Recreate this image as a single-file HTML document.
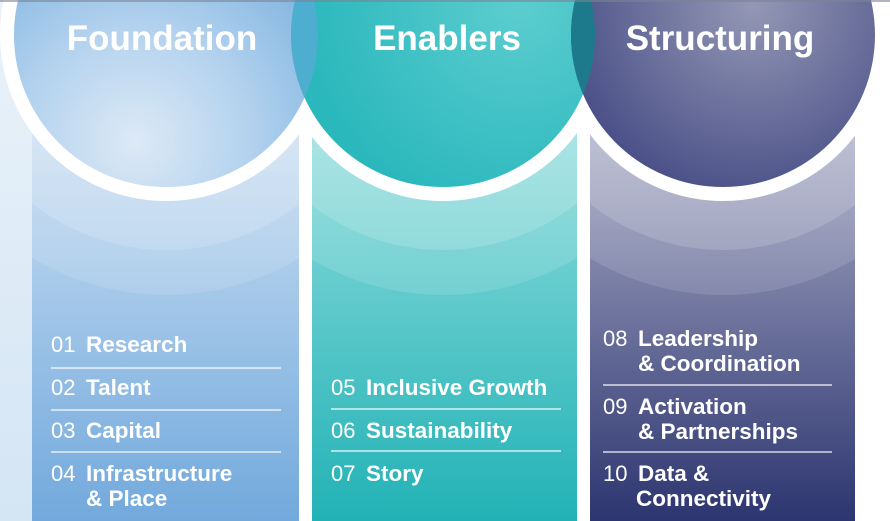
<!DOCTYPE html>
<html><head><meta charset="utf-8"><style>
html,body{margin:0;padding:0;background:#fff;}
svg{display:block;}
text{font-family:"Liberation Sans",sans-serif;fill:#fff;}
.n{font-size:22px;font-weight:normal;}
.b{font-size:22.5px;font-weight:bold;}
.h{font-size:35px;font-weight:bold;}
</style></head><body>
<svg width="890" height="521" viewBox="0 0 890 521" xmlns="http://www.w3.org/2000/svg">
<defs>
<linearGradient id="g1" x1="0" y1="0" x2="0" y2="1"><stop offset="0" stop-color="#c9def2"/><stop offset="1" stop-color="#72a9dc"/></linearGradient>
<linearGradient id="g2" x1="0" y1="0" x2="0" y2="1"><stop offset="0" stop-color="#8fdcdc"/><stop offset="1" stop-color="#22b2b6"/></linearGradient>
<linearGradient id="g3" x1="0" y1="0" x2="0" y2="1"><stop offset="0" stop-color="#a9adc6"/><stop offset="1" stop-color="#2d3570"/></linearGradient>
<linearGradient id="gl" x1="0" y1="0" x2="0" y2="1"><stop offset="0" stop-color="#e9f2fa"/><stop offset="1" stop-color="#d4e5f4"/></linearGradient>
<radialGradient id="c1" cx="0.4" cy="0.85" r="0.75"><stop offset="0" stop-color="#dde9f6"/><stop offset="0.5" stop-color="#b3d2ee"/><stop offset="1" stop-color="#7fb3e0"/></radialGradient>
<radialGradient id="c2" cx="0.75" cy="0.4" r="0.7"><stop offset="0" stop-color="#5ccdcf"/><stop offset="1" stop-color="#2bb8bd"/></radialGradient>
<radialGradient id="c3" cx="0.6" cy="0.4" r="0.65"><stop offset="0" stop-color="#9498b5"/><stop offset="1" stop-color="#4a5088"/></radialGradient>
<clipPath id="k1"><rect x="32" y="130" width="267" height="391"/></clipPath>
<clipPath id="k2"><rect x="312" y="130" width="265" height="391"/></clipPath>
<clipPath id="k3"><rect x="590" y="130" width="265" height="391"/></clipPath>
<clipPath id="q1"><circle cx="166" cy="35" r="152"/></clipPath>
<clipPath id="q2"><circle cx="443" cy="35" r="152"/></clipPath>
</defs>
<rect x="0" y="0" width="32" height="521" fill="url(#gl)"/>
<rect x="32" y="130" width="267" height="391" fill="url(#g1)"/>
<rect x="312" y="130" width="265" height="391" fill="url(#g2)"/>
<rect x="590" y="130" width="265" height="391" fill="url(#g3)"/>
<g clip-path="url(#k1)" fill="#fff"><circle cx="166" cy="35" r="260" opacity="0.12"/><circle cx="166" cy="35" r="215" opacity="0.15"/></g>
<g clip-path="url(#k2)" fill="#fff"><circle cx="443" cy="35" r="260" opacity="0.12"/><circle cx="443" cy="35" r="215" opacity="0.15"/></g>
<g clip-path="url(#k3)" fill="#fff"><circle cx="723" cy="35" r="260" opacity="0.12"/><circle cx="723" cy="35" r="215" opacity="0.15"/></g>
<circle cx="166" cy="35" r="159" fill="none" stroke="#fff" stroke-width="14"/>
<circle cx="443" cy="35" r="159" fill="none" stroke="#fff" stroke-width="14"/>
<circle cx="723" cy="35" r="159" fill="none" stroke="#fff" stroke-width="14"/>
<circle cx="166" cy="35" r="152" fill="url(#c1)"/>
<circle cx="443" cy="35" r="152" fill="url(#c2)"/>
<circle cx="723" cy="35" r="152" fill="url(#c3)"/>
<g clip-path="url(#q1)"><circle cx="443" cy="35" r="152" fill="#4eaed0"/></g>
<g clip-path="url(#q2)"><circle cx="723" cy="35" r="152" fill="#1d7a8c"/></g>
<rect x="0" y="0" width="890" height="2" fill="#7c8494" opacity="0.6"/>
<text class="h" x="162" y="50" text-anchor="middle">Foundation</text>
<text class="h" x="447" y="50" text-anchor="middle">Enablers</text>
<text class="h" x="720" y="50" text-anchor="middle">Structuring</text>
<g stroke="#fff" stroke-opacity="0.8" stroke-width="1.5">
<line x1="51" y1="368" x2="281" y2="368"/><line x1="51" y1="410" x2="281" y2="410"/><line x1="51" y1="452" x2="281" y2="452"/>
<line x1="331" y1="409" x2="561" y2="409"/><line x1="331" y1="451" x2="561" y2="451"/>
<line x1="603" y1="385" x2="832" y2="385"/><line x1="603" y1="452" x2="832" y2="452"/>
</g>
<text class="n" x="51" y="352">01</text><text class="b" x="86" y="352">Research</text>
<text class="n" x="51" y="395">02</text><text class="b" x="86" y="395">Talent</text>
<text class="n" x="51" y="438">03</text><text class="b" x="86" y="438">Capital</text>
<text class="n" x="51" y="481">04</text><text class="b" x="86" y="481">Infrastructure</text>
<text class="b" x="86" y="506">&amp; Place</text>
<text class="n" x="331" y="395">05</text><text class="b" x="366" y="395">Inclusive Growth</text>
<text class="n" x="331" y="438">06</text><text class="b" x="366" y="438">Sustainability</text>
<text class="n" x="331" y="481">07</text><text class="b" x="366" y="481">Story</text>
<text class="n" x="603" y="346">08</text><text class="b" x="638" y="346">Leadership</text>
<text class="b" x="638" y="371">&amp; Coordination</text>
<text class="n" x="603" y="414">09</text><text class="b" x="638" y="414">Activation</text>
<text class="b" x="638" y="439">&amp; Partnerships</text>
<text class="n" x="603" y="481">10</text><text class="b" x="638" y="481">Data &amp;</text>
<text class="b" x="636" y="506">Connectivity</text>
</svg>
</body></html>
